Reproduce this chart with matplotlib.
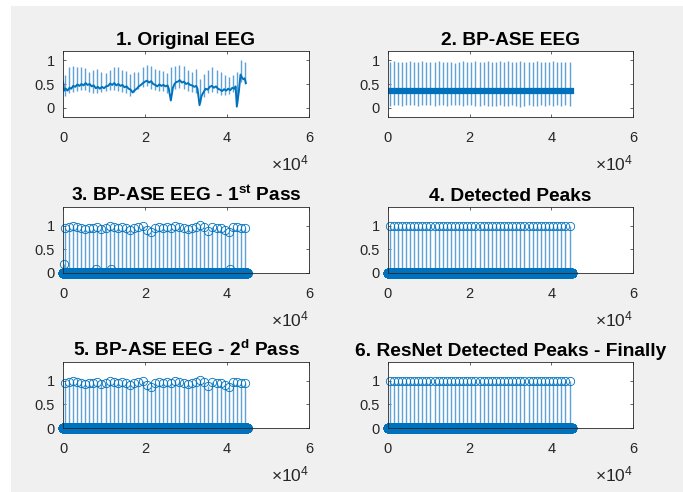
import numpy as np
import matplotlib
matplotlib.use("Agg")
import matplotlib.pyplot as plt
from matplotlib.patches import Rectangle

plt.rcParams['font.family'] = ['Liberation Sans', 'DejaVu Sans']
plt.rcParams['mathtext.fontset'] = 'custom'
plt.rcParams['mathtext.rm'] = 'Liberation Sans'
plt.rcParams['mathtext.bf'] = 'Liberation Sans:bold'
plt.rcParams['mathtext.it'] = 'Liberation Sans:italic'

# ---------------- data ----------------
n_samples = 45000

peak_x = [400, 1390, 2400, 3380, 4390, 5400, 6380, 7400, 8410, 9390,
          10400, 11420, 12400, 13390, 14410, 15420, 16400, 17390, 18410, 19430,
          20420, 21400, 22410, 23430, 24420, 25400, 26420, 27430, 28410, 29420,
          30440, 31430, 32410, 33420, 34440, 35430, 36420, 37440, 38450, 39430,
          40440, 41460, 42440, 43450, 44470]

# panel 1: original EEG (spike tops / bottoms, baseline key points)
p1_hi = [0.70, 0.85, 0.88, 0.85, 0.86, 0.83, 0.75, 0.80, 0.82, 0.75,
         0.73, 0.80, 0.85, 0.87, 0.80, 0.78, 0.72, 0.75, 0.76, 0.85,
         0.90, 0.88, 0.82, 0.80, 0.78, 0.74, 0.85, 0.88, 0.90, 0.88,
         0.80, 0.75, 0.82, 0.60, 0.72, 0.80, 0.85, 0.80, 0.75, 0.70,
         0.65, 0.70, 0.75, 1.00, 0.97]
p1_lo = [0.25, 0.30, 0.33, 0.36, 0.37, 0.38, 0.33, 0.30, 0.30, 0.32,
         0.35, 0.38, 0.37, 0.36, 0.32, 0.30, 0.25, 0.32, 0.40, 0.44,
         0.45, 0.40, 0.38, 0.36, 0.35, 0.30, 0.35, 0.40, 0.42, 0.40,
         0.36, 0.33, 0.30, 0.10, 0.22, 0.30, 0.33, 0.30, 0.27, 0.26,
         0.28, 0.33, 0.10, 0.55, 0.50]
p1_base_x = [0, 300, 700, 1100, 1600, 2000, 2500, 3000, 3500, 4000,
             4500, 5000, 5500, 6000, 6500, 7000, 7500, 8000, 8500, 9000,
             9500, 10000, 10500, 11000, 11500, 12000, 12500, 13000, 13500, 14000,
             14500, 15000, 15500, 16000, 16500, 17000, 17500, 18000, 18500, 19000,
             19500, 20000, 20500, 21000, 21500, 22000, 22500, 23000, 23500, 24000,
             24500, 25000, 25500, 25800, 26300, 26800, 27200, 27600, 28000, 28500,
             29000, 29500, 30000, 30500, 31000, 31500, 32000, 32500, 32800, 33300,
             33800, 34300, 34800, 35300, 35800, 36300, 36800, 37300, 37800, 38300,
             38800, 39300, 39800, 40300, 40800, 41300, 41800, 42100, 42400, 42900,
             43300, 43700, 44000, 44300, 44600]
p1_base_y = [0.55, 0.36, 0.40, 0.36, 0.42, 0.40, 0.46, 0.44, 0.49, 0.46,
             0.50, 0.47, 0.52, 0.48, 0.50, 0.45, 0.47, 0.41, 0.44, 0.40,
             0.44, 0.41, 0.45, 0.46, 0.51, 0.48, 0.52, 0.47, 0.50, 0.46,
             0.48, 0.43, 0.45, 0.40, 0.38, 0.32, 0.37, 0.40, 0.45, 0.48,
             0.52, 0.55, 0.57, 0.53, 0.56, 0.50, 0.48, 0.45, 0.49, 0.46,
             0.48, 0.45, 0.47, 0.40, 0.15, 0.42, 0.50, 0.54, 0.55, 0.58,
             0.53, 0.55, 0.50, 0.52, 0.48, 0.47, 0.44, 0.46, 0.40, 0.05,
             0.25, 0.33, 0.40, 0.38, 0.44, 0.46, 0.42, 0.45, 0.40, 0.38,
             0.35, 0.39, 0.36, 0.40, 0.37, 0.42, 0.40, 0.45, 0.02, 0.35,
             0.70, 0.63, 0.60, 0.62, 0.52]

# panel 2: BP-ASE EEG
p2_hi = [0.97, 0.98, 0.97, 0.96, 0.97, 0.98, 0.96, 0.97, 0.98, 0.97,
         0.96, 0.97, 0.98, 0.97, 0.96, 0.97, 0.95, 0.97, 0.98, 0.96,
         0.97, 0.98, 0.96, 0.97, 0.98, 0.97, 0.96, 0.98, 0.97, 0.99,
         0.97, 0.96, 0.98, 0.97, 0.96, 0.97, 0.98, 0.97, 0.96, 0.97,
         0.98, 0.97, 0.96, 0.97, 0.97]
p2_lo = [0.04, 0.05, 0.06, 0.04, 0.05, 0.06, 0.05, 0.04, 0.05, 0.06,
         0.05, 0.04, 0.06, 0.05, 0.04, 0.05, 0.06, 0.05, 0.04, 0.05,
         0.06, 0.04, 0.03, 0.05, 0.04, 0.03, 0.04, 0.05, 0.03, 0.04,
         0.05, 0.03, 0.02, 0.04, 0.05, 0.04, 0.03, 0.05, 0.04, 0.05,
         0.04, 0.05, 0.04, 0.05, 0.04]
p2_base_x = [0, 44700]
p2_base_y = [0.36, 0.36]

# panel 3: first pass amplitudes at peaks + small residual peaks
p3_vals = [0.95, 0.98, 1.00, 0.97, 0.95, 0.94, 0.96, 0.95, 0.97, 0.93,
           0.96, 1.00, 0.97, 0.95, 0.97, 0.96, 0.92, 0.96, 0.97, 0.99,
           0.92, 0.88, 0.95, 0.97, 0.96, 0.98, 0.95, 1.00, 0.97, 0.96,
           0.93, 0.95, 0.97, 1.02, 0.98, 0.90, 0.97, 0.96, 0.95, 0.92,
           0.88, 0.97, 0.98, 0.96, 0.95]
p3_extra_x = [160, 8130, 11800, 40650]
p3_extra_v = [0.20, 0.09, 0.09, 0.09]

# panel 5: second pass amplitudes
p5_vals = [0.95, 0.98, 1.00, 0.97, 0.95, 0.94, 0.96, 0.95, 0.97, 0.93,
           0.96, 1.00, 0.97, 0.95, 0.97, 0.96, 0.92, 0.96, 0.97, 0.99,
           0.92, 0.88, 0.95, 0.97, 0.96, 0.98, 0.95, 1.00, 0.97, 0.96,
           0.93, 0.95, 0.97, 1.02, 0.98, 0.90, 0.97, 0.96, 0.95, 0.92,
           0.88, 0.97, 0.98, 0.96, 0.95]

# panels 4 & 6: binary detections
p4_vals = [1.0] * len(peak_x)
p6_vals = [1.0] * len(peak_x)

titles = ['1. Original EEG', '2. BP-ASE EEG',
          r'3. BP-ASE EEG - 1$^{\mathbf{st}}$ Pass', '4. Detected Peaks',
          r'5. BP-ASE EEG - 2$^{\mathbf{d}}$ Pass', '6. ResNet Detected Peaks - Finally']
xtick_vals = [0, 20000, 40000, 60000]
xtick_labels = ['0', '2', '4', '6']
ytick_vals = [0, 0.5, 1]
ytick_labels = ['0', '0.5', '1']

# ---------------- figure ----------------
W, H = 683, 492
fig = plt.figure(figsize=(W / 100, H / 100), dpi=100, facecolor='white')
fig.patches.append(Rectangle((11 / W, -0.05), 1.1, 1.05 - 6 / H,
                             transform=fig.transFigure, facecolor='#f0f0f0',
                             edgecolor='none', zorder=-10))

blue = '#0072BD'
light = '#5ea3d8'
axcol = '#262626'
lefts = [63, 388]
widths = [246, 245]
tops = [51, 207, 362]
ah = 66

axes = []
for r in range(3):
    for c in range(2):
        ax = fig.add_axes([lefts[c] / W, 1 - (tops[r] + ah) / H, widths[c] / W, ah / H])
        axes.append(ax)

def style(ax, title, ylim):
    ax.set_xlim(0, 60000)
    ax.set_ylim(*ylim)
    ax.set_xticks(xtick_vals)
    ax.set_xticklabels(xtick_labels)
    ax.set_yticks(ytick_vals)
    ax.set_yticklabels(ytick_labels)
    ax.tick_params(direction='in', top=True, right=True, length=2.5, width=0.5,
                   color=axcol, labelcolor=axcol, labelsize=10.5)
    ax.tick_params(axis='x', pad=10)
    ax.tick_params(axis='y', pad=6)
    for s in ax.spines.values():
        s.set_color(axcol)
        s.set_linewidth(0.6)
    ax.set_title(title, fontsize=13.8, fontweight='bold', pad=4.5, color='black')
    ax.text(1.0, -0.70, r'$\times\mathregular{10^{4}}$', transform=ax.transAxes,
            ha='right', va='center', fontsize=12.5, color=axcol)

# panel 1
ax = axes[0]
ax.vlines(peak_x, p1_lo, p1_hi, color=light, lw=1.0)
ax.plot(p1_base_x, p1_base_y, color=blue, lw=1.4)
style(ax, titles[0], (-0.2, 1.2))

# panel 2
ax = axes[1]
ax.vlines(peak_x, p2_lo, p2_hi, color=light, lw=1.0)
ax.plot(p2_base_x, p2_base_y, color=blue, lw=4.5)
style(ax, titles[1], (-0.2, 1.2))

t = np.arange(1, n_samples + 1)
def stem_panel(ax, vals, extra_x=(), extra_v=()):
    sig = np.zeros(n_samples)
    sig[np.array(peak_x) - 1] = vals
    if len(extra_x):
        sig[np.array(extra_x) - 1] = extra_v
    ml, sl, bl = ax.stem(t, sig, basefmt=' ')
    sl.set_color(light)
    sl.set_linewidth(1.0)
    ml.set_marker('o')
    ml.set_markersize(6)
    ml.set_markerfacecolor('none')
    ml.set_markeredgecolor(blue)
    ml.set_markeredgewidth(0.6)
    ml.set_clip_on(False)
    sl.set_clip_on(False)

stem_panel(axes[2], p3_vals, p3_extra_x, p3_extra_v)
style(axes[2], titles[2], (0, 1.4))
stem_panel(axes[3], p4_vals)
style(axes[3], titles[3], (0, 1.4))
stem_panel(axes[4], p5_vals)
style(axes[4], titles[4], (0, 1.4))
stem_panel(axes[5], p6_vals)
style(axes[5], titles[5], (0, 1.4))

fig.savefig('out.png', dpi=100, facecolor=fig.get_facecolor())
